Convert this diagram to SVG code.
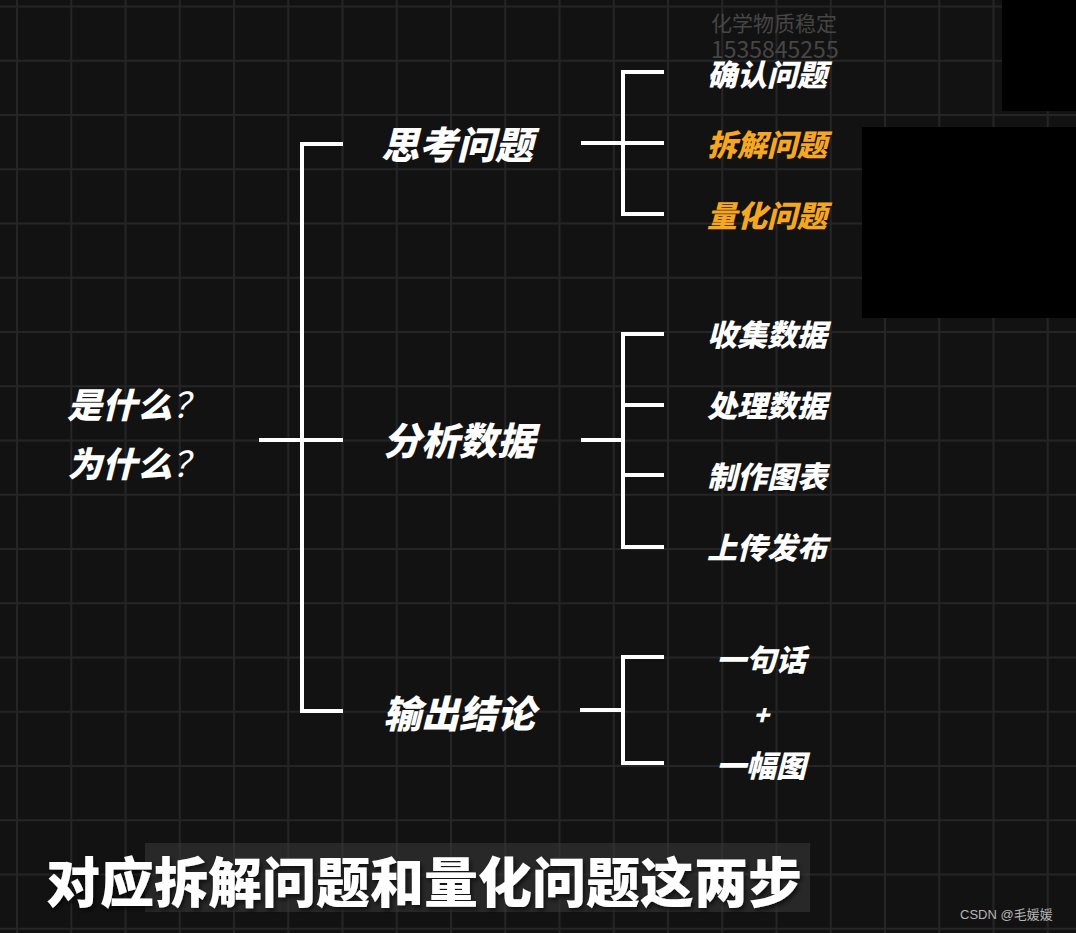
<svg xmlns="http://www.w3.org/2000/svg" width="1076" height="933" viewBox="0 0 1076 933">
<defs>
<pattern id="grid" patternUnits="userSpaceOnUse" x="16" y="5.5" width="54.25" height="54.25">
<rect x="0" y="0" width="54.25" height="2" fill="#262526"/>
<rect x="0" y="0" width="2" height="54.25" fill="#262526"/>
</pattern>
<filter id="glow" x="-5%" y="-20%" width="110%" height="140%">
<feGaussianBlur in="SourceAlpha" stdDeviation="2"/>
<feOffset dx="2" dy="3"/>
<feComponentTransfer><feFuncA type="linear" slope="0.6"/></feComponentTransfer>
<feMerge><feMergeNode/><feMergeNode in="SourceGraphic"/></feMerge>
</filter>
</defs>
<style>
.cjk{font-family:"Noto Sans CJK SC","Noto Sans",sans-serif;font-weight:900;font-style:italic;dominant-baseline:central}
.main{font-size:38px;fill:#ffffff}
.sub{font-size:30px;fill:#ffffff}
.hi{fill:#f5a623}
.ln{stroke:#ffffff;stroke-width:4;fill:none;stroke-linecap:butt}
.wm{font-family:"Noto Sans CJK SC","Noto Sans",sans-serif;font-size:21px;fill:#474646}
</style>
<rect width="1076" height="933" fill="#131213"/>
<rect width="1076" height="933" fill="url(#grid)"/>
<text class="wm" x="711" y="31">化学物质稳定</text>
<text class="wm" x="711" y="58" style="font-size:23px">1535845255</text>
<rect x="1002" y="0" width="74" height="111" fill="#000000"/>
<rect x="862" y="127" width="214" height="191" fill="#000000"/>
<g id="connectors">
<path class="ln" d="M343 144H302V711H343M259 440H343"/>
<path class="ln" d="M664 72H623V214H664M581 143H664"/>
<path class="ln" d="M664 334H623V547H664M581 440H623M623 405H664M623 475H664"/>
<path class="ln" d="M664 657H623V763H664M580 710H623"/>
</g>
<g id="root">
<text class="cjk main" x="67" y="402" style="font-size:35px">是什么<tspan style="font-weight:normal">？</tspan></text>
<text class="cjk main" x="67" y="461" style="font-size:35px">为什么<tspan style="font-weight:normal">？</tspan></text>
</g>
<g id="n-think"><text class="cjk main" x="381" y="142">思考问题</text></g>
<g id="n-analyze"><text class="cjk main" x="383" y="438">分析数据</text></g>
<g id="n-output"><text class="cjk main" x="383" y="711">输出结论</text></g>
<g id="n-confirm"><text class="cjk sub" x="707" y="73">确认问题</text></g>
<g id="n-split"><text class="cjk sub hi" x="707" y="143">拆解问题</text></g>
<g id="n-quant"><text class="cjk sub hi" x="707" y="214">量化问题</text></g>
<g id="n-collect"><text class="cjk sub" x="707" y="333">收集数据</text></g>
<g id="n-process"><text class="cjk sub" x="707" y="404">处理数据</text></g>
<g id="n-chart"><text class="cjk sub" x="707" y="475">制作图表</text></g>
<g id="n-publish"><text class="cjk sub" x="707" y="546">上传发布</text></g>
<g id="n-sentence"><text class="cjk sub" x="716" y="658">一句话</text></g>
<g id="n-plus"><text class="cjk sub" x="753" y="713" style="font-size:26px">+</text></g>
<g id="n-picture"><text class="cjk sub" x="716" y="764">一幅图</text></g>
<g id="subtitle">
<rect x="145" y="843" width="665" height="69" fill="#3a3a3a" fill-opacity="0.55"/>
<text x="46" y="879" filter="url(#glow)" style="font-family:'Noto Sans CJK SC','Noto Sans',sans-serif;font-weight:900;font-size:54px;fill:#ffffff;dominant-baseline:central">对应拆解问题和量化问题这两步</text>
</g>
<text x="960" y="919" style="font-family:'Liberation Sans','Noto Sans CJK SC',sans-serif;font-size:13px;fill:#b5b5b5">CSDN @毛媛媛</text>
</svg>
